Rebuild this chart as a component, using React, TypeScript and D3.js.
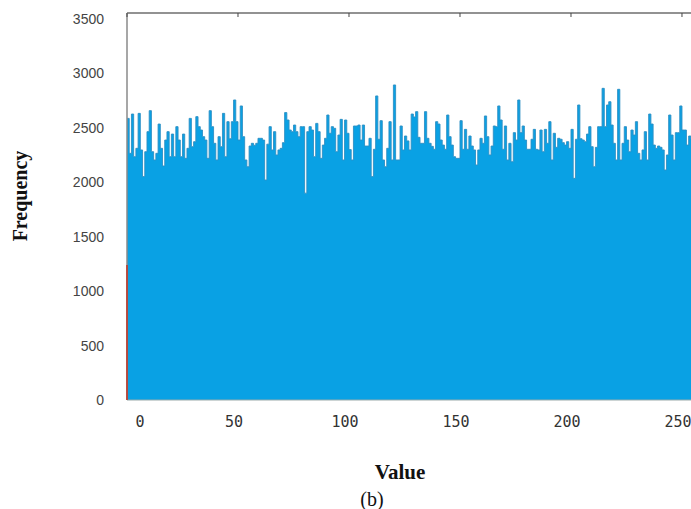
import React from 'react';
import * as d3 from 'd3';

// Histogram of pixel values 0..255 (frequency per value)
const values: number[] = d3.range(0, 256);
const frequencies: number[] = [
  2587, 2266, 2627, 2235, 2312, 2633, 2297, 2052, 2281, 2465,
  2658, 2281, 2205, 2266, 2535, 2312, 2150, 2388, 2465, 2235,
  2443, 2235, 2511, 2388, 2235, 2443, 2220, 2312, 2587, 2327,
  2373, 2603, 2511, 2480, 2419, 2388, 2220, 2658, 2511, 2358,
  2205, 2419, 2327, 2633, 2235, 2557, 2400, 2557, 2756, 2557,
  2388, 2701, 2419, 2205, 2143, 2333, 2358, 2340, 2358, 2404,
  2404, 2388, 2021, 2350, 2511, 2297, 2465, 2251, 2297, 2312,
  2364, 2640, 2572, 2480, 2465, 2526, 2465, 2419, 2511, 2511,
  1900, 2465, 2511, 2480, 2235, 2541, 2465, 2220, 2342, 2404,
  2618, 2450, 2511, 2496, 2281, 2434, 2578, 2205, 2572, 2450,
  2300, 2205, 2517, 2517, 2526, 2388, 2526, 2333, 2333, 2404,
  2052, 2303, 2793, 2395, 2566, 2205, 2143, 2312, 2557, 2205,
  2894, 2205, 2205, 2517, 2297, 2425, 2380, 2297, 2627, 2600,
  2649, 2413, 2358, 2358, 2649, 2404, 2358, 2330, 2303, 2557,
  2535, 2388, 2342, 2303, 2618, 2419, 2342, 2235, 2220, 2220,
  2566, 2303, 2486, 2303, 2425, 2333, 2297, 2159, 2297, 2404,
  2358, 2609, 2419, 2251, 2333, 2517, 2511, 2701, 2572, 2303,
  2517, 2205, 2358, 2189, 2456, 2388, 2756, 2456, 2517, 2388,
  2303, 2303, 2395, 2486, 2303, 2297, 2480, 2281, 2486, 2358,
  2557, 2205, 2450, 2321, 2404, 2395, 2364, 2342, 2373, 2312,
  2486, 2036, 2395, 2710, 2400, 2388, 2373, 2443, 2511, 2327,
  2143, 2321, 2511, 2511, 2863, 2511, 2710, 2740, 2526, 2358,
  2205, 2854, 2205, 2358, 2511, 2388, 2281, 2480, 2434, 2557,
  2266, 2205, 2297, 2465, 2205, 2627, 2535, 2342, 2312, 2333,
  2321, 2297, 2113, 2251, 2618, 2434, 2205, 2456, 2456, 2701,
  2480, 2480, 2342, 2425, 2400, 2350,
];
const xTickValues: number[] = [0, 50, 100, 150, 200, 250];
const yTickValues: number[] = [0, 500, 1000, 1500, 2000, 2500, 3000, 3500];
const markerValue = 1240; // red marker at value 0

export default function App() {
  const W = 691;
  const H = 509;
  const x = d3.scaleLinear().domain([0, 256]).range([127, 695.3]);
  const y = d3.scaleLinear().domain([0, 3555]).range([400, 13]);

  const pts: [number, number][] = [];
  values.forEach((v, i) => {
    pts.push([x(v), y(frequencies[i])]);
    pts.push([x(v + 1), y(frequencies[i])]);
  });
  const area = d3
    .area<[number, number]>()
    .x((d) => d[0])
    .y0(y(0))
    .y1((d) => d[1]);
  const outline = d3
    .line<[number, number]>()
    .x((d) => d[0])
    .y((d) => d[1]);

  const plotLeft = x(0);
  const plotTop = y(3555);
  const plotBottom = y(0);

  return (
    <svg
      width={W}
      height={H}
      style={{ position: 'absolute', left: 0, top: 0, background: '#fff' }}
    >
      <rect x={0} y={0} width={W} height={H} fill="#fff" />
      {/* bars */}
      <path d={area(pts) || ''} fill="#09a1e4" />
      <path
        d={outline(pts) || ''}
        fill="none"
        stroke="#2c8ec4"
        strokeWidth={0.9}
      />
      {/* axes frame */}
      <line x1={plotLeft} x2={W} y1={plotBottom} y2={plotBottom} stroke="#9aa" strokeWidth={1} />
      <line x1={plotLeft} x2={W} y1={plotTop} y2={plotTop} stroke="#6e6e6e" strokeWidth={1.6} />
      <line x1={plotLeft} x2={plotLeft} y1={plotTop} y2={plotBottom} stroke="#8a8a8a" strokeWidth={1.5} />
      {xTickValues.map((v) => (
        <line key={'t' + v} x1={x(v)} x2={x(v)} y1={plotTop} y2={plotTop + 4} stroke="#444" strokeWidth={1} />
      ))}
      {/* red marker */}
      <line
        x1={x(0)}
        x2={x(0)}
        y1={y(0)}
        y2={y(markerValue)}
        stroke="#c0392b"
        strokeWidth={1.6}
      />
      {/* y tick labels */}
      {yTickValues.map((v) => (
        <text
          key={'y' + v}
          x={104}
          y={y(v)}
          dy="0.36em"
          textAnchor="end"
          fontFamily="'Liberation Sans', Arial, sans-serif"
          fontSize={14}
          fill="#444"
        >
          {v}
        </text>
      ))}
      {/* x tick labels */}
      {xTickValues.map((v) => (
        <text
          key={'x' + v}
          x={x(v) + (v === 0 ? 13 : -4)}
          y={427}
          textAnchor="middle"
          fontFamily="'DejaVu Sans Mono', monospace"
          fontSize={15}
          fill="#333"
        >
          {v}
        </text>
      ))}
      {/* axis titles */}
      <text
        transform="translate(27,196) rotate(-90)"
        textAnchor="middle"
        fontFamily="'Liberation Serif', 'Times New Roman', serif"
        fontWeight="bold"
        fontSize={20}
        fill="#111"
      >
        Frequency
      </text>
      <text
        x={400}
        y={479}
        textAnchor="middle"
        fontFamily="'Liberation Serif', 'Times New Roman', serif"
        fontWeight="bold"
        fontSize={21}
        fill="#111"
      >
        Value
      </text>
      <text
        x={372}
        y={506}
        textAnchor="middle"
        fontFamily="'Liberation Serif', 'Times New Roman', serif"
        fontSize={20}
        fill="#111"
      >
        (b)
      </text>
    </svg>
  );
}
